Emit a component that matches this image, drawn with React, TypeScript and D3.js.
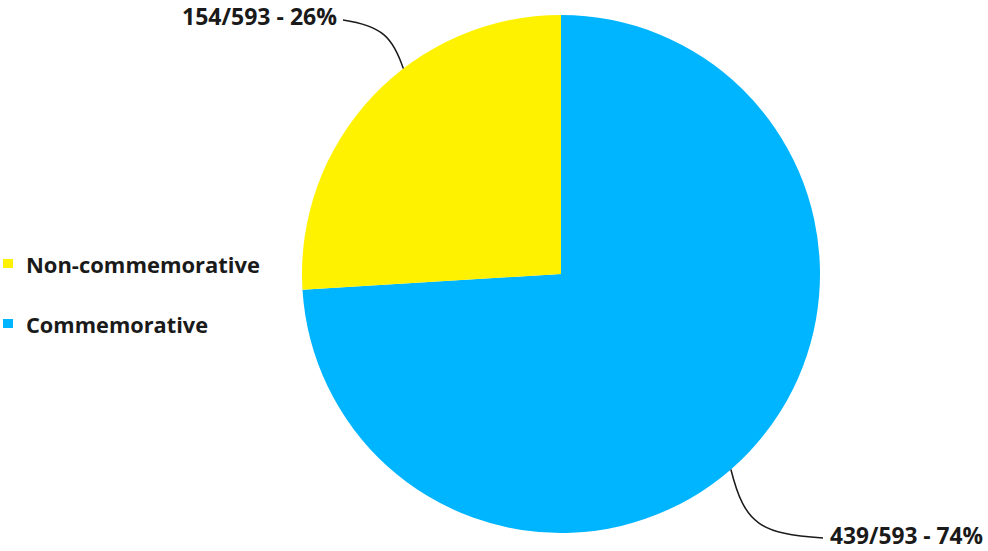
import React from "react";
import * as d3 from "d3";

const categories = ["Commemorative", "Non-commemorative"];
const values = [439, 154];
const total = 593;
const colors = ["#00B5FF", "#FFF200"];
const legendOrder = ["Non-commemorative", "Commemorative"];
const legendWidths = [234, 182];

export default function App() {
  const W = 988, H = 551;
  const cx = 561, cy = 274, r = 259;
  const pie = d3.pie<number>().sort(null).value((d) => d);
  const arcs = pie(values);
  const arc = d3.arc<d3.PieArcDatum<number>>().innerRadius(0).outerRadius(r);
  const font = "'Open Sans', sans-serif";

  const onArc = (deg: number) => {
    const a = (deg * Math.PI) / 180;
    return [cx + r * Math.sin(a), cy - r * Math.cos(a)];
  };

  // leader lines
  const [ax1, ay1] = onArc(322.5);
  const [ax2, ay2] = onArc(139);
  const lx1 = cx - 218, ly1 = cy - 254;
  const lx2 = cx + 262, ly2 = cy + 264;
  const path1 = d3.path();
  path1.moveTo(lx1, ly1);
  path1.bezierCurveTo(lx1 + 40, ly1 + 6, lx1 + 50, ly1 + 18, ax1, ay1);
  const path2 = d3.path();
  path2.moveTo(ax2, ay2);
  path2.bezierCurveTo(ax2 + 14, ay2 + 56, ax2 + 30, ay2 + 64, lx2, ly2);

  const pct = (v: number) => Math.round((v / total) * 100);

  return (
    <svg width={W} height={H} style={{ position: "absolute", left: 0, top: 0 }}>
      <rect width={W} height={H} fill="#fff" />
      <g transform={`translate(${cx},${cy})`}>
        {arcs.map((a, i) => (
          <path key={i} d={arc(a) || ""} fill={colors[i]} />
        ))}
      </g>
      <path d={path1.toString()} fill="none" stroke="#1a1a1a" strokeWidth={1.5} />
      <path d={path2.toString()} fill="none" stroke="#1a1a1a" strokeWidth={1.5} />
      <text x={lx1 - 6} y={ly1 + 5} textAnchor="end" fontFamily={font} fontWeight="bold" fontSize={24}
        textLength={155} lengthAdjust="spacingAndGlyphs" fill="#1a1a1a">
        {`${values[1]}/${total} - ${pct(values[1])}%`}
      </text>
      <text x={lx2 + 7} y={ly2 + 6} textAnchor="start" fontFamily={font} fontWeight="bold" fontSize={23}
        textLength={153} lengthAdjust="spacingAndGlyphs" fill="#1a1a1a">
        {`${values[0]}/${total} - ${pct(values[0])}%`}
      </text>
      {legendOrder.map((name, i) => {
        const ci = categories.indexOf(name);
        const y = 273 + i * 60;
        return (
          <g key={name}>
            <rect x={3} y={y - 14} width={10} height={9} fill={colors[ci]} />
            <text x={26} y={y} fontFamily={font} fontWeight="bold" fontSize={22}
              textLength={legendWidths[i]} lengthAdjust="spacingAndGlyphs" fill="#1a1a1a">
              {name}
            </text>
          </g>
        );
      })}
    </svg>
  );
}
